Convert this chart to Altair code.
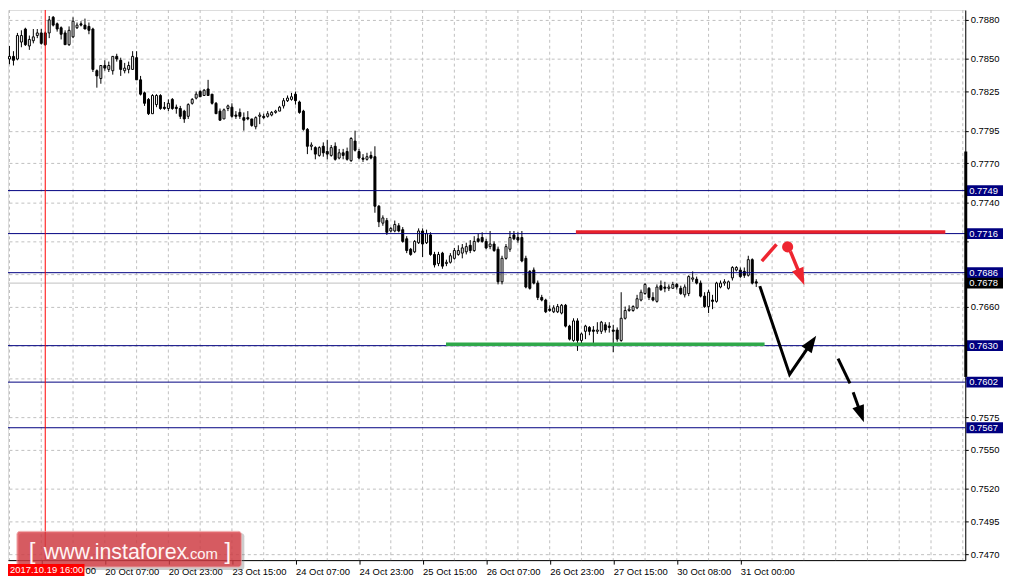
import json
import math
import altair as alt
import pandas as pd

# ---------------- data (hourly candles) ----------------
opens = [0.7861,0.7847,0.7850,0.7852,0.7850,0.7863,0.7873,0.7860,0.7864,0.7868,
         0.7870,0.7870,0.7870,0.7882,0.7877,0.7874,0.7870,0.7861,0.7867,0.7874,
         0.7877,0.7876,0.7875,0.7873,0.7841,0.7835,0.7845,0.7842,0.7841,0.7852,
         0.7849,0.7841,0.7842,0.7842,0.7851,0.7834,0.7824,0.7819,0.7808,0.7815,
         0.7822,0.7813,0.7812,0.7819,0.7813,0.7812,0.7810,0.7806,0.7816,0.7820,
         0.7825,0.7822,0.7827,0.7823,0.7816,0.7810,0.7804,0.7812,0.7813,0.7807,
         0.7809,0.7805,0.7805,0.7804,0.7798,0.7806,0.7806,0.7806,0.7807,0.7809,
         0.7810,0.7814,0.7818,0.7819,0.7823,0.7817,0.7810,0.7796,0.7783,0.7782,
         0.7776,0.7783,0.7779,0.7776,0.7783,0.7774,0.7778,0.7779,0.7772,0.7787,
         0.7779,0.7774,0.7773,0.7776,0.7775,0.7737,0.7724,0.7726,0.7718,0.7718,
         0.7722,0.7719,0.7712,0.7704,0.7702,0.7709,0.7718,0.7709,0.7715,0.7700,
         0.7693,0.7701,0.7693,0.7694,0.7697,0.7700,0.7701,0.7702,0.7707,0.7703,
         0.7712,0.7713,0.7710,0.7706,0.7708,0.7704,0.7679,0.7697,0.7704,0.7715,
         0.7713,0.7713,0.7697,0.7687,0.7688,0.7678,0.7667,0.7665,0.7658,0.7656,
         0.7656,0.7655,0.7661,0.7645,0.7634,0.7649,0.7634,0.7641,0.7644,0.7642,
         0.7641,0.7641,0.7646,0.7645,0.7642,0.7642,0.7634,0.7651,0.7657,0.7657,
         0.7659,0.7665,0.7670,0.7674,0.7667,0.7664,0.7676,0.7675,0.7674,0.7674,
         0.7677,0.7674,0.7669,0.7670,0.7681,0.7681,0.7678,0.7668,0.7660,0.7665,
         0.7664,0.7675,0.7678,0.7674,0.7682,0.7688,0.7688,0.7687,0.7684,0.7696,
         0.7679]
highs = [0.7862,0.7853,0.7860,0.7856,0.7870,0.7872,0.7874,0.7868,0.7873,0.7873,
         0.7873,0.7871,0.7883,0.7883,0.7878,0.7875,0.7872,0.7875,0.7882,0.7878,
         0.7879,0.7881,0.7878,0.7874,0.7842,0.7845,0.7849,0.7848,0.7852,0.7854,
         0.7851,0.7847,0.7848,0.7856,0.7856,0.7837,0.7825,0.7820,0.7823,0.7823,
         0.7823,0.7817,0.7819,0.7820,0.7815,0.7814,0.7811,0.7816,0.7820,0.7825,
         0.7826,0.7827,0.7834,0.7823,0.7817,0.7812,0.7812,0.7815,0.7816,0.7810,
         0.7812,0.7809,0.7810,0.7804,0.7806,0.7809,0.7808,0.7810,0.7810,0.7811,
         0.7814,0.7820,0.7822,0.7824,0.7825,0.7818,0.7811,0.7797,0.7786,0.7783,
         0.7783,0.7786,0.7788,0.7784,0.7786,0.7781,0.7781,0.7782,0.7790,0.7795,
         0.7781,0.7777,0.7778,0.7779,0.7783,0.7738,0.7730,0.7728,0.7721,0.7726,
         0.7724,0.7721,0.7714,0.7705,0.7711,0.7720,0.7720,0.7719,0.7717,0.7702,
         0.7702,0.7702,0.7696,0.7701,0.7705,0.7707,0.7708,0.7709,0.7711,0.7714,
         0.7716,0.7717,0.7712,0.7718,0.7710,0.7706,0.7699,0.7708,0.7718,0.7718,
         0.7717,0.7718,0.7699,0.7688,0.7690,0.7680,0.7669,0.7666,0.7661,0.7661,
         0.7662,0.7662,0.7662,0.7646,0.7651,0.7651,0.7640,0.7646,0.7645,0.7645,
         0.7648,0.7649,0.7648,0.7648,0.7646,0.7644,0.7671,0.7660,0.7661,0.7661,
         0.7669,0.7673,0.7678,0.7675,0.7671,0.7677,0.7680,0.7679,0.7677,0.7679,
         0.7678,0.7676,0.7677,0.7684,0.7687,0.7683,0.7680,0.7671,0.7673,0.7669,
         0.7679,0.7680,0.7681,0.7680,0.7691,0.7691,0.7690,0.7690,0.7699,0.7697,
         0.7681]
lows = [0.7845,0.7845,0.7846,0.7845,0.7849,0.7859,0.7860,0.7857,0.7862,0.7866,
        0.7861,0.7860,0.7866,0.7875,0.7871,0.7865,0.7861,0.7860,0.7866,0.7873,
        0.7875,0.7873,0.7869,0.7840,0.7828,0.7831,0.7841,0.7840,0.7838,0.7848,
        0.7837,0.7839,0.7839,0.7842,0.7834,0.7822,0.7814,0.7807,0.7808,0.7813,
        0.7811,0.7811,0.7810,0.7811,0.7808,0.7804,0.7801,0.7804,0.7815,0.7819,
        0.7821,0.7822,0.7822,0.7815,0.7808,0.7803,0.7804,0.7810,0.7805,0.7804,
        0.7804,0.7795,0.7803,0.7798,0.7796,0.7800,0.7804,0.7805,0.7806,0.7808,
        0.7810,0.7812,0.7817,0.7818,0.7815,0.7808,0.7795,0.7777,0.7780,0.7773,
        0.7775,0.7775,0.7773,0.7775,0.7772,0.7773,0.7773,0.7772,0.7771,0.7779,
        0.7773,0.7771,0.7772,0.7773,0.7732,0.7721,0.7722,0.7715,0.7717,0.7717,
        0.7717,0.7709,0.7701,0.7699,0.7701,0.7708,0.7698,0.7708,0.7699,0.7690,
        0.7691,0.7689,0.7691,0.7693,0.7696,0.7699,0.7697,0.7700,0.7701,0.7702,
        0.7709,0.7709,0.7704,0.7704,0.7702,0.7677,0.7677,0.7696,0.7702,0.7711,
        0.7709,0.7694,0.7674,0.7673,0.7677,0.7665,0.7664,0.7655,0.7656,0.7655,
        0.7655,0.7654,0.7644,0.7634,0.7633,0.7626,0.7632,0.7635,0.7638,0.7632,
        0.7639,0.7639,0.7640,0.7640,0.7625,0.7633,0.7633,0.7650,0.7656,0.7656,
        0.7658,0.7664,0.7669,0.7665,0.7664,0.7663,0.7672,0.7671,0.7672,0.7674,
        0.7673,0.7669,0.7667,0.7668,0.7679,0.7677,0.7667,0.7659,0.7655,0.7658,
        0.7663,0.7674,0.7676,0.7673,0.7680,0.7687,0.7682,0.7682,0.7683,0.7677,
        0.7675]
closes = [0.7847,0.7851,0.7852,0.7849,0.7868,0.7868,0.7861,0.7865,0.7867,0.7870,
          0.7862,0.7861,0.7880,0.7876,0.7873,0.7869,0.7861,0.7872,0.7879,0.7876,
          0.7876,0.7873,0.7872,0.7842,0.7837,0.7845,0.7843,0.7845,0.7852,0.7850,
          0.7842,0.7843,0.7845,0.7852,0.7834,0.7823,0.7816,0.7808,0.7822,0.7822,
          0.7812,0.7812,0.7816,0.7812,0.7812,0.7806,0.7804,0.7815,0.7819,0.7823,
          0.7821,0.7826,0.7822,0.7816,0.7808,0.7803,0.7811,0.7814,0.7806,0.7806,
          0.7806,0.7803,0.7804,0.7799,0.7805,0.7807,0.7805,0.7808,0.7809,0.7810,
          0.7813,0.7818,0.7820,0.7821,0.7818,0.7809,0.7796,0.7783,0.7784,0.7777,
          0.7782,0.7778,0.7777,0.7782,0.7773,0.7778,0.7776,0.7773,0.7789,0.7780,
          0.7774,0.7773,0.7775,0.7774,0.7737,0.7725,0.7728,0.7717,0.7720,0.7723,
          0.7718,0.7710,0.7703,0.7700,0.7710,0.7718,0.7708,0.7716,0.7700,0.7692,
          0.7700,0.7691,0.7694,0.7699,0.7703,0.7703,0.7705,0.7706,0.7703,0.7710,
          0.7710,0.7710,0.7705,0.7708,0.7703,0.7679,0.7697,0.7706,0.7713,0.7712,
          0.7711,0.7695,0.7675,0.7674,0.7678,0.7667,0.7665,0.7656,0.7657,0.7659,
          0.7660,0.7661,0.7645,0.7635,0.7649,0.7634,0.7639,0.7645,0.7641,0.7641,
          0.7642,0.7648,0.7642,0.7644,0.7641,0.7635,0.7651,0.7657,0.7658,0.7660,
          0.7666,0.7671,0.7677,0.7667,0.7665,0.7675,0.7673,0.7674,0.7675,0.7677,
          0.7675,0.7670,0.7675,0.7683,0.7682,0.7678,0.7668,0.7660,0.7671,0.7664,
          0.7678,0.7678,0.7679,0.7679,0.7690,0.7690,0.7683,0.7684,0.7696,0.7678,
          0.7678]

tick_index = [10, 26, 42, 58, 74, 90, 106, 122, 138, 154, 170, 186]
tick_labels = ["", "20 Oct 07:00", "20 Oct 23:00", "23 Oct 15:00",
               "24 Oct 07:00", "24 Oct 23:00", "25 Oct 15:00", "26 Oct 07:00",
               "26 Oct 23:00", "27 Oct 15:00", "30 Oct 08:00", "31 Oct 00:00"]
covered_label_tail = "00"
grid_index = list(range(2, 243, 8))
price_ticks = [0.7880, 0.7850, 0.7825, 0.7795, 0.7770, 0.7740, 0.7710, 0.7685,
               0.7660, 0.7630, 0.7605, 0.7575, 0.7550, 0.7520, 0.7495, 0.7470]
hidden_price_labels = ["0.7710", "0.7685", "0.7630", "0.7605"]
level_prices = [0.7749, 0.7716, 0.7686, 0.7630, 0.7602, 0.7567]
bid_price = 0.7678
cursor_index = 11
cursor_label = "2017.10.19 16:00"
scale_bar = [0.7779, 0.7606]

resistance_k = [144.6, 237.6]
resistance_price = 0.77172
support_k = [111.9, 192.1]
support_price = 0.7631

red_stroke_k = [191.4, 195.1]
red_stroke_p = [0.76948, 0.77078]
red_dot_k = [197.9]
red_dot_p = [0.77058]
red_arrow_k = [198.6, 202.1]
red_arrow_p = [0.77024, 0.76765]
black_path_k = [190.9, 198.4, 205.1]
black_path_p = [0.76757, 0.76079, 0.76376]
black_dash_k = [210.6, 213.6]
black_dash_p = [0.76201, 0.76011]
black_arrow_k = [214.4, 217.1]
black_arrow_p = [0.75942, 0.75713]

# ---------------- scales ----------------
W, H = 964, 554
P_TOP, P_BOT = 0.78876, 0.74654
PX_K = 4.0
PX_P = H / (P_TOP - P_BOT)
xs = alt.Scale(domain=[1.625, 242.625], nice=False, zero=False)
ys = alt.Scale(domain=[P_BOT, P_TOP], nice=False, zero=False)
FONT = "Liberation Sans"
NAVY = "#000080"

candles = pd.DataFrame({"k": list(range(len(opens))), "o": opens, "h": highs,
                        "l": lows, "c": closes})
candles["h"] = candles[["h", "o", "c"]].max(axis=1)
candles["l"] = candles[["l", "o", "c"]].min(axis=1)
candles["dir"] = ["up" if c >= o else "down" for o, c in zip(candles.o, candles.c)]
candles["x1"] = candles.k - 0.25
candles["x2"] = candles.k + 0.25

label_expr_x = f"{json.dumps(tick_labels)}[indexof({json.dumps(tick_index)}, datum.value)]"
label_expr_y = (f"indexof({json.dumps(hidden_price_labels)}, format(datum.value, '.4f')) >= 0"
                " ? '' : format(datum.value, '.4f')")

x_axis = alt.Axis(values=tick_index, labelExpr=label_expr_x, grid=False, title=None,
                  domainColor="black", tickColor="black", tickSize=4, labelAlign="left",
                  labelBaseline="top", labelPadding=2, labelFontSize=9.5, labelFont=FONT,
                  labelColor="black", labelOverlap=False, labelFlush=False, orient="bottom")
y_axis = alt.Axis(values=price_ticks, labelExpr=label_expr_y, grid=True, gridDash=[3, 3],
                  gridColor="#c0c0c0", title=None, domainColor="black", tickColor="black",
                  tickSize=3, labelPadding=2, labelFontSize=9.5, labelFont=FONT,
                  labelColor="black", labelAlign="left", labelBaseline="middle",
                  labelOverlap=False, labelFlush=False, orient="right")


def X(field):
    return alt.X(field, scale=xs, axis=x_axis)


def Y(field):
    return alt.Y(field, scale=ys, axis=y_axis)


# vertical dashed grid
vgrid = alt.Chart(pd.DataFrame({"k": grid_index})).mark_rule(
    color="#c0c0c0", strokeDash=[3, 3], strokeWidth=1).encode(x=X("k:Q"))

# horizontal levels
levels = alt.Chart(pd.DataFrame({"p": level_prices})).mark_rule(
    color=NAVY, strokeWidth=1).encode(y=Y("p:Q"))
bid = alt.Chart(pd.DataFrame({"p": [bid_price]})).mark_rule(
    color="#c0c0c0", strokeWidth=1).encode(y=Y("p:Q"))
cursor = alt.Chart(pd.DataFrame({"k": [cursor_index]})).mark_rule(
    color="#ff0000", strokeWidth=1).encode(x=X("k:Q"))

wicks = alt.Chart(candles).mark_rule(color="black", strokeWidth=1, clip=True).encode(
    x=X("k:Q"), y=Y("l:Q"), y2="h:Q")
bodies_up = alt.Chart(candles[candles.dir == "up"]).mark_rect(
    stroke="black", strokeWidth=1, fill="white", clip=True).encode(
    x=X("x1:Q"), x2="x2:Q", y=Y("o:Q"), y2="c:Q")
bodies_down = alt.Chart(candles[candles.dir == "down"]).mark_rect(
    stroke="black", strokeWidth=1, fill="black", clip=True).encode(
    x=X("x1:Q"), x2="x2:Q", y=Y("o:Q"), y2="c:Q")

res = alt.Chart(pd.DataFrame({"k1": [resistance_k[0]], "k2": [resistance_k[1]],
                              "p": [resistance_price]})).mark_rule(
    color="#e8212b", strokeWidth=3.5).encode(x=X("k1:Q"), x2="k2:Q", y=Y("p:Q"))
sup = alt.Chart(pd.DataFrame({"k1": [support_k[0]], "k2": [support_k[1]],
                              "p": [support_price]})).mark_rule(
    color="#2fa84a", strokeWidth=3.5).encode(x=X("k1:Q"), x2="k2:Q", y=Y("p:Q"))


def line_layer(ks, ps, color, width, shorten=0.0):
    ks = list(ks)
    ps = list(ps)
    if shorten > 0:
        dx = (ks[-1] - ks[-2]) * PX_K
        dy = (ps[-1] - ps[-2]) * PX_P
        f = shorten / math.hypot(dx, dy)
        ks[-1] = ks[-1] - f * (ks[-1] - ks[-2])
        ps[-1] = ps[-1] - f * (ps[-1] - ps[-2])
    df = pd.DataFrame({"k": ks, "p": ps, "o": list(range(len(ks)))})
    return alt.Chart(df).mark_line(color=color, strokeWidth=width, strokeCap="butt",
                                   strokeJoin="miter").encode(
        x=X("k:Q"), y=Y("p:Q"), order="o:Q")


def head_layer(ks, ps, color, size):
    dx = (ks[-1] - ks[-2]) * PX_K
    dy = (ps[-1] - ps[-2]) * PX_P
    ang = math.degrees(math.atan2(dx, dy)) % 360
    df = pd.DataFrame({"k": [ks[-1]], "p": [ps[-1]], "a": [ang]})
    return alt.Chart(df).mark_point(shape="M0,0 L-0.72,2 L0.72,2 Z", filled=True,
                                    color=color, opacity=1, size=size,
                                    strokeWidth=0).encode(
        x=X("k:Q"), y=Y("p:Q"), angle=alt.Angle("a:Q", scale=None))


red_stroke = line_layer(red_stroke_k, red_stroke_p, "#ee2530", 3.5)
red_dot = alt.Chart(pd.DataFrame({"k": red_dot_k, "p": red_dot_p})).mark_point(
    shape="circle", filled=True, color="#ee2530", opacity=1, size=125).encode(
    x=X("k:Q"), y=Y("p:Q"))
red_arrow = line_layer(red_arrow_k, red_arrow_p, "#ee2530", 3.5, shorten=10)
red_head = head_layer(red_arrow_k, red_arrow_p, "#ee2530", 300)
black_path = line_layer(black_path_k, black_path_p, "black", 3, shorten=10)
black_head = head_layer(black_path_k, black_path_p, "black", 290)
black_dash = line_layer(black_dash_k, black_dash_p, "black", 3)
black_arrow = line_layer(black_arrow_k, black_arrow_p, "black", 3, shorten=10)
black_head2 = head_layer(black_arrow_k, black_arrow_p, "black", 290)

# price boxes on the right scale
half = 5.5 / PX_P
box_df = pd.DataFrame({"p": level_prices + [bid_price],
                       "label": [f"{v:.4f}" for v in level_prices + [bid_price]],
                       "kind": ["level"] * len(level_prices) + ["bid"]})
box_df["lo"] = box_df.p - half
box_df["hi"] = box_df.p + half
boxes_level = alt.Chart(box_df[box_df.kind == "level"]).mark_rect(fill=NAVY).encode(
    x=alt.value(W + 1), x2=alt.value(W + 38), y=Y("lo:Q"), y2="hi:Q")
boxes_bid = alt.Chart(box_df[box_df.kind == "bid"]).mark_rect(fill="black").encode(
    x=alt.value(W + 1), x2=alt.value(W + 38), y=Y("lo:Q"), y2="hi:Q")
box_text = alt.Chart(box_df).mark_text(align="left", baseline="middle", color="white",
                                       fontSize=9.5, font=FONT).encode(
    x=alt.value(W + 4), y=Y("p:Q"), text="label:N")

bar = alt.Chart(pd.DataFrame({"a": [scale_bar[0]], "b": [scale_bar[1]]})).mark_rule(
    color="black", strokeWidth=3).encode(x=alt.value(W + 0.5), y=Y("a:Q"), y2="b:Q")

# watermark (page offsets of the 8px body margin removed)
wm_shadow = alt.Chart(pd.DataFrame({"d": [0]})).mark_rect(
    color="#707070", opacity=0.35, cornerRadius=3).encode(
    x=alt.value(11), x2=alt.value(238), y=alt.value(527), y2=alt.value(564))
wm_box = alt.Chart(pd.DataFrame({"d": [0]})).mark_rect(
    color="#d9363e", opacity=0.75, cornerRadius=3, stroke="#eea0a0", strokeWidth=1).encode(
    x=alt.value(9), x2=alt.value(235), y=alt.value(525), y2=alt.value(561))
wm_parts = pd.DataFrame({"t": ["[", "www.instaforex", ".com", "]"],
                         "x": [21, 36, 179, 218], "s": [24, 21.5, 15, 24]})
wm_texts = []
for _, r in wm_parts.iterrows():
    wm_texts.append(alt.Chart(pd.DataFrame({"t": [r.t]})).mark_text(
        align="left", baseline="alphabetic", color="#fff4f4", fontSize=float(r.s),
        font=FONT).encode(x=alt.value(float(r.x)), y=alt.value(553), text="t:N"))

date_box = alt.Chart(pd.DataFrame({"d": [0]})).mark_rect(color="#ff0000").encode(
    x=alt.value(0), x2=alt.value(77), y=alt.value(558), y2=alt.value(570))
date_text = alt.Chart(pd.DataFrame({"t": [cursor_label]})).mark_text(
    align="left", baseline="middle", color="white", fontSize=9.5, font=FONT).encode(
    x=alt.value(2), y=alt.value(564), text="t:N")
tail_text = alt.Chart(pd.DataFrame({"t": [covered_label_tail]})).mark_text(
    align="left", baseline="top", color="black", fontSize=9.5, font=FONT).encode(
    x=alt.value(78), y=alt.value(H + 6), text="t:N")

chart = alt.layer(
    vgrid, bid, wicks, bodies_up, bodies_down, levels, cursor, res, sup,
    red_stroke, red_dot, red_arrow, red_head,
    black_path, black_head, black_dash, black_arrow, black_head2,
    boxes_level, boxes_bid, box_text, bar,
    wm_shadow, wm_box, *wm_texts, date_box, date_text, tail_text,
).properties(
    width=W, height=H,
    autosize=alt.AutoSizeParams(type="none"),
    padding={"left": 0, "top": 0, "right": 38, "bottom": 18},
).configure_view(strokeWidth=0).configure(background="white", font=FONT)

chart.save("out.html", embed_options={"renderer": "svg", "actions": False})
